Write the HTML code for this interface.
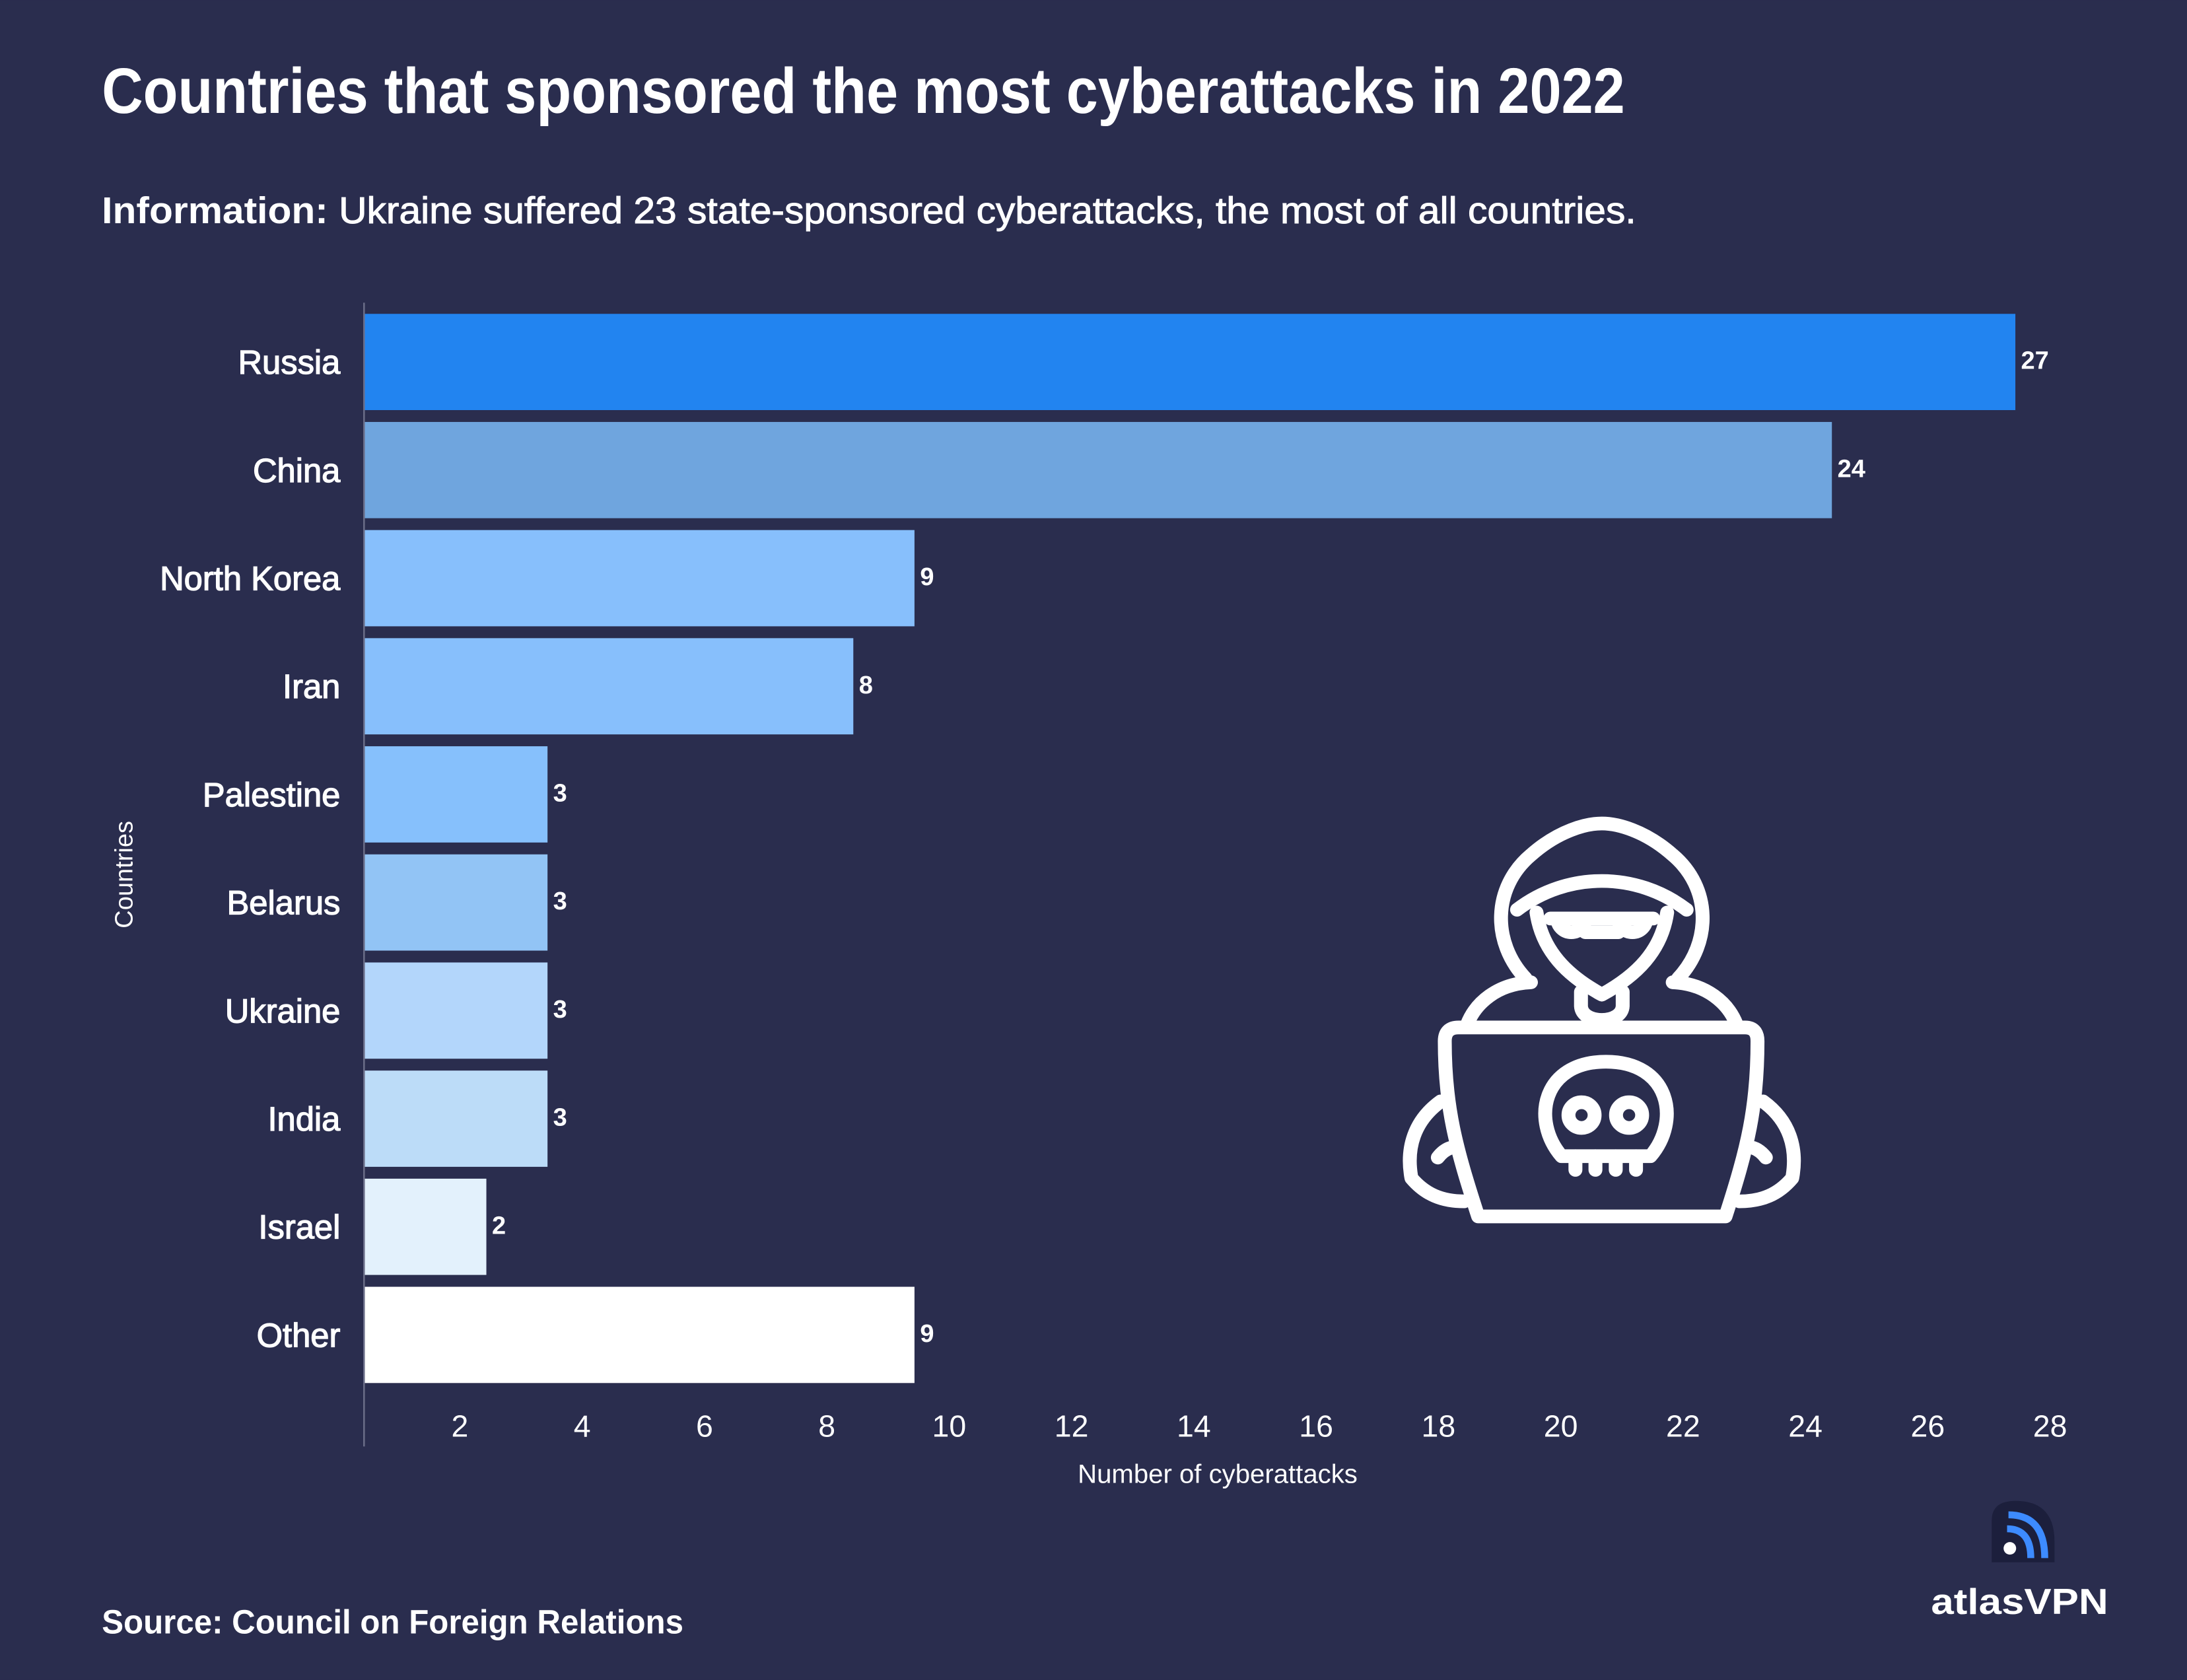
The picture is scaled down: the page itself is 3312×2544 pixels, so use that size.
<!DOCTYPE html>
<html><head><meta charset="utf-8">
<style>
html,body{margin:0;padding:0;background:#2a2d4e;}
svg{display:block;}
text{font-family:"Liberation Sans",Arial,sans-serif;fill:#ffffff;}
</style></head>
<body>
<svg id="chart" width="3312" height="2544" viewBox="0 0 1568 1204.4" xmlns="http://www.w3.org/2000/svg">
<rect x="0" y="0" width="1568" height="1204.4" fill="#2a2d4e"/>
<text x="73" y="81" font-size="46" font-weight="bold" textLength="1092" lengthAdjust="spacingAndGlyphs">Countries that sponsored the most cyberattacks in 2022</text>
<text x="73" y="160" font-size="27" textLength="1100" lengthAdjust="spacingAndGlyphs"><tspan font-weight="bold">Information:</tspan> <tspan stroke="#ffffff" stroke-width="0.5">Ukraine suffered 23 state-sponsored cyberattacks, the most of all countries.</tspan></text>
<g id="bars"></g>
<g id="ylabels"></g>
<g id="vlabels"></g>
<g id="xticks"></g>
<line x1="261" y1="217" x2="261" y2="1037" stroke="#6a6d88" stroke-width="1.2"/>
<text x="873" y="1063" font-size="19" text-anchor="middle">Number of cyberattacks</text>
<text x="0" y="0" font-size="18" text-anchor="middle" transform="translate(95,627) rotate(-90)">Countries</text>
<text x="73" y="1171" font-size="24" font-weight="bold" textLength="417" lengthAdjust="spacingAndGlyphs">Source: Council on Foreign Relations</text>

<g transform="translate(994,577.6) scale(0.1993,0.1963)" fill="none" stroke="#ffffff" stroke-width="50" stroke-linecap="round" stroke-linejoin="round">
<path d="M500,630 C380,500 380,300 520,180 C620,90 720,65 775,65 C830,65 930,90 1030,180 C1170,300 1170,500 1050,630"/>
<path d="M520,645 C400,650 320,720 290,800"/>
<path d="M1030,645 C1150,650 1230,720 1260,800"/>
<path d="M470,380 C650,240 900,240 1080,380"/>
<path d="M540,390 C560,530 650,620 775,690 C900,620 990,530 1010,390"/>
<path d="M700,680 L700,730 C700,800 850,800 850,730 L850,680"/>
<path d="M590,412 L960,412"/>
<path d="M615,412 A50,50 0 0 0 715,412 M835,412 A50,50 0 0 0 935,412 M715,462 L835,462"/>
<path d="M260,810 L1290,810 Q1335,810 1335,860 C1335,1100 1300,1250 1220,1500 L330,1500 C250,1250 210,1100 210,860 Q210,810 260,810 Z"/>
<path d="M195,1080 C100,1150 70,1250 90,1360 C140,1420 200,1445 280,1445"/>
<path d="M185,1285 C200,1265 215,1255 230,1250"/>
<path d="M1355,1080 C1450,1150 1480,1250 1460,1360 C1410,1420 1350,1445 1270,1445"/>
<path d="M1365,1285 C1350,1265 1335,1255 1320,1250"/>
<path d="M630,1280 C520,1150 560,935 790,935 C1020,935 1060,1150 950,1280 Z"/>
<path d="M680,1280 L680,1330 M752,1280 L752,1330 M825,1280 L825,1330 M898,1280 L898,1330"/>
<circle cx="702" cy="1130" r="47"/>
<circle cx="873" cy="1130" r="47"/>
</g>

<g>
<path d="M1428,1120 L1428,1090 Q1428,1076 1445,1076 Q1473,1076 1473,1105 L1473,1120 Z" fill="#1c1f3c"/>
<path d="M1440,1086 Q1466,1086 1466,1117" fill="none" stroke="#3d8bff" stroke-width="5"/>
<path d="M1439,1096 Q1456,1096 1456,1117" fill="none" stroke="#3d8bff" stroke-width="5"/>
<circle cx="1441" cy="1110" r="4.5" fill="#ffffff"/>
<text x="1448" y="1157" font-size="26" font-weight="bold" text-anchor="middle" textLength="127" lengthAdjust="spacingAndGlyphs">atlasVPN</text>
</g>
</svg>
<script>
const categories = ["Russia","China","North Korea","Iran","Palestine","Belarus","Ukraine","India","Israel","Other"];
const values = [27,24,9,8,3,3,3,3,2,9];
const barColors = ["#2284f0","#6fa5de","#87bffc","#87bffc","#86c0fc","#92c4f5","#b3d6fb","#bcdcf8","#e3f1fc","#ffffff"];
const tickValues = [2,4,6,8,10,12,14,16,18,20,22,24,26,28];

const NS = "http://www.w3.org/2000/svg";
const x0 = 261, unit = 43.85;
function xScale(v){ return x0 + v*unit; }
const bandTop = 225, bandStep = 77.5, barH = 69;
function yScale(i){ return bandTop + i*bandStep; }

const gb = document.getElementById('bars');
const gl = document.getElementById('ylabels');
const gv = document.getElementById('vlabels');
const gt = document.getElementById('xticks');

categories.forEach((c,i)=>{
  const r = document.createElementNS(NS,'rect');
  r.setAttribute('x', x0);
  r.setAttribute('y', yScale(i));
  r.setAttribute('width', xScale(values[i]) - x0);
  r.setAttribute('height', barH);
  r.setAttribute('fill', barColors[i]);
  
  
  gb.appendChild(r);

  const t = document.createElementNS(NS,'text');
  t.setAttribute('x', 244);
  t.setAttribute('y', yScale(i) + barH/2 + 8.5);
  t.setAttribute('font-size', '24');
  t.setAttribute('stroke', '#ffffff');
  t.setAttribute('stroke-width', '0.6');
  t.setAttribute('text-anchor', 'end');
  t.textContent = c;
  
  
  gl.appendChild(t);

  const v = document.createElementNS(NS,'text');
  v.setAttribute('x', xScale(values[i]) + 4);
  v.setAttribute('y', yScale(i) + barH/2 + 5);
  v.setAttribute('font-size', '18');
  v.setAttribute('font-weight', 'bold');
  v.textContent = values[i];
  
  
  gv.appendChild(v);
});

tickValues.forEach(tv=>{
  const t = document.createElementNS(NS,'text');
  t.setAttribute('x', xScale(tv) - 19);
  t.setAttribute('y', 1030);
  t.setAttribute('font-size', '22');
  t.setAttribute('text-anchor', 'middle');
  t.textContent = tv;
  
  
  gt.appendChild(t);
});
</script>
</body></html>
